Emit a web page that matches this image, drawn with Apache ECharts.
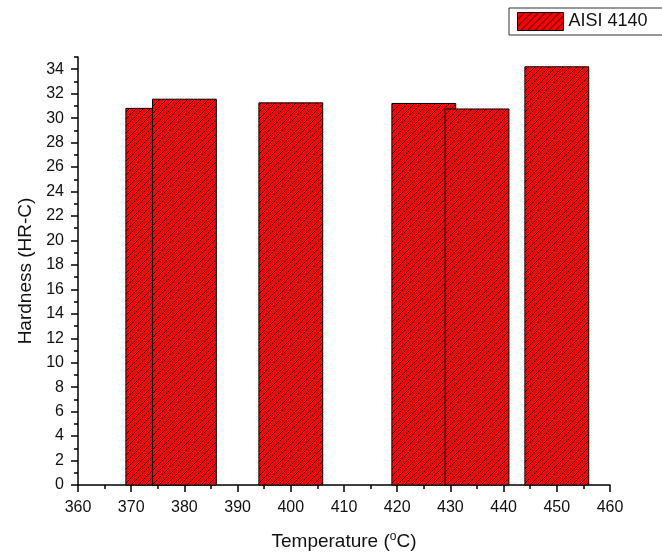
<!DOCTYPE html>
<html><head><meta charset="utf-8">
<script src="https://cdn.jsdelivr.net/npm/echarts@6/dist/echarts.min.js"></script>
<style>html,body{margin:0;padding:0;background:#fff}#c{width:662px;height:553px}</style>
</head><body><div id="c"></div>
<script>
// Data
var temperatures = [375, 380, 400, 425, 435, 450];
var hardness = [30.8, 31.55, 31.25, 31.2, 30.75, 34.2];
var seriesName = 'AISI 4140';
var yMajorTicks = [0,2,4,6,8,10,12,14,16,18,20,22,24,26,28,30,32,34];
var yMinorTicks = [1,3,5,7,9,11,13,15,17,19,21,23,25,27,29,31,33,35];
var barHalfWidth = 6;

function hatch(){
  var s = 7, c = document.createElement('canvas');
  c.width = s; c.height = s;
  var g = c.getContext('2d');
  g.fillStyle = '#ff0000'; g.fillRect(0,0,s,s);
  g.strokeStyle = '#000'; g.lineWidth = 1;
  g.beginPath();
  g.moveTo(-1, s+1); g.lineTo(s+1, -1);
  g.moveTo(-1, 1); g.lineTo(1, -1);
  g.moveTo(s-1, s+1); g.lineTo(s+1, s-1);
  g.stroke();
  return c;
}
var pattern = {image: hatch(), repeat: 'repeat'};

var font = 'Liberation Sans, Arial, sans-serif';
var data = temperatures.map(function(t,i){ return [t, hardness[i]]; });

var chart = echarts.init(document.getElementById('c'), null, {renderer:'canvas'});
chart.setOption({
  animation: false,
  backgroundColor: '#fff',
  textStyle: {fontFamily: font, color: '#111'},
  grid: {left: 78, right: 52, top: 57, bottom: 68, containLabel: false, outerBoundsMode: 'none'},
  legend: {
    show: true, left: 509, top: 8,
    borderColor: '#333', borderWidth: 1, padding: [4, 30, 4, 8],
    itemWidth: 46, itemHeight: 18, itemGap: 0,
    textStyle: {fontFamily: font, fontSize: 18, color: '#111'},
    data: [{name: seriesName, icon: 'rect', itemStyle: {color: pattern, borderColor: '#000', borderWidth: 1}}]
  },
  xAxis: {
    type: 'value', min: 360, max: 460, interval: 10,
    name: 'Temperature ({sup|o}C)', nameLocation: 'middle', nameGap: 46,
    nameTextStyle: {fontFamily: font, fontSize: 19, color: '#111',
      rich: {sup: {fontSize: 12, verticalAlign: 'top', padding: [0,0,10,0], fontFamily: font, color:'#111'}}},
    axisLine: {show: true, lineStyle: {color: '#000', width: 1.5}},
    axisTick: {show: true, length: 7, lineStyle: {color: '#000', width: 1.5}},
    minorTick: {show: true, splitNumber: 2, length: 4, lineStyle: {color: '#000', width: 1.5}},
    axisLabel: {fontFamily: font, fontSize: 16, color: '#111', margin: 15},
    splitLine: {show: false}
  },
  yAxis: [{
    type: 'value', min: 0, max: 35,
    name: 'Hardness (HR-C)', nameLocation: 'middle', nameGap: 42,
    nameTextStyle: {fontFamily: font, fontSize: 19, color: '#111'},
    axisLine: {show: true, lineStyle: {color: '#000', width: 1.5}},
    axisTick: {show: true, length: 7, customValues: yMajorTicks, lineStyle: {color: '#000', width: 1.5}},
    axisLabel: {fontFamily: font, fontSize: 16, color: '#111', margin: 14, customValues: yMajorTicks},
    splitLine: {show: false}
  }, {
    type: 'value', min: 0, max: 35, position: 'left',
    axisLine: {show: false},
    axisTick: {show: true, length: 4, customValues: yMinorTicks, lineStyle: {color: '#000', width: 1.5}},
    axisLabel: {show: false},
    splitLine: {show: false}
  }],
  series: [{
    type: 'custom', name: seriesName,
    xAxisIndex: 0, yAxisIndex: 0,
    itemStyle: {color: pattern, borderColor: '#000', borderWidth: 1},
    renderItem: function(params, api){
      var x = api.value(0), y = api.value(1);
      var p0 = api.coord([x - barHalfWidth, y]);
      var p1 = api.coord([x + barHalfWidth, 0]);
      return {
        type: 'rect',
        shape: {x: p0[0], y: p0[1], width: p1[0]-p0[0], height: p1[1]-p0[1]},
        style: {fill: pattern, stroke: '#000', lineWidth: 1}
      };
    },
    encode: {x: 0, y: 1},
    data: data
  }]
});
</script></body></html>
